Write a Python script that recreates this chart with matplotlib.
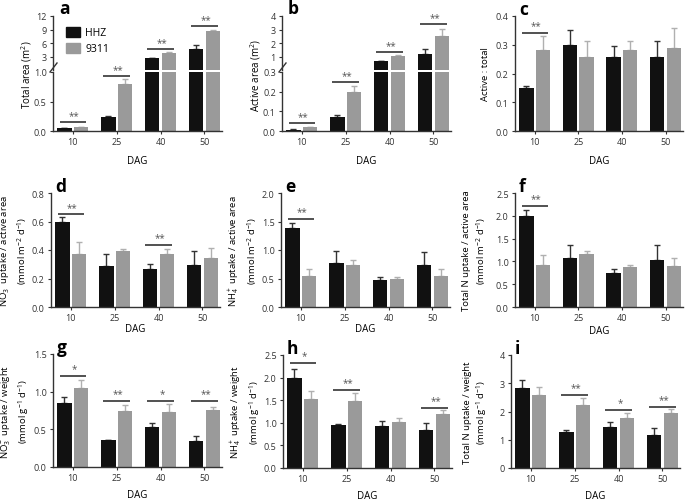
import numpy as np
import matplotlib
matplotlib.use("Agg")
import matplotlib.pyplot as plt
from matplotlib.lines import Line2D
from matplotlib.patches import Patch

plt.rcParams["font.family"] = ["Open Sans", "DejaVu Sans"]
plt.rcParams["mathtext.default"] = "regular"

W, H = 685, 502
BLACK = "#111111"
GRAY = "#9a9a9a"
EBLACK = "#333333"
EGRAY = "#b0b0b0"

dag = ["10", "25", "40", "50"]

# means and upward error
a_hhz = [0.045, 0.235, 2.6, 4.75]
a_hhz_err = [0.005, 0.015, 0.1, 0.75]
a_9311 = [0.065, 0.79, 3.7, 8.6]
a_9311_err = [0.005, 0.09, 0.35, 0.35]

b_hhz = [0.007, 0.07, 0.65, 1.16]
b_hhz_err = [0.002, 0.013, 0.03, 0.4]
b_9311 = [0.02, 0.2, 1.05, 2.55]
b_9311_err = [0.002, 0.028, 0.05, 0.5]

c_hhz = [0.148, 0.30, 0.258, 0.258]
c_hhz_err = [0.01, 0.05, 0.038, 0.056]
c_9311 = [0.283, 0.258, 0.283, 0.29]
c_9311_err = [0.047, 0.054, 0.029, 0.07]

d_hhz = [0.595, 0.29, 0.27, 0.295]
d_hhz_err = [0.035, 0.08, 0.03, 0.1]
d_9311 = [0.375, 0.39, 0.375, 0.345]
d_9311_err = [0.08, 0.02, 0.035, 0.07]

e_hhz = [1.39, 0.78, 0.47, 0.73]
e_hhz_err = [0.09, 0.2, 0.06, 0.24]
e_9311 = [0.55, 0.73, 0.49, 0.55]
e_9311_err = [0.12, 0.1, 0.04, 0.11]

f_hhz = [2.0, 1.07, 0.74, 1.03]
f_hhz_err = [0.12, 0.28, 0.09, 0.33]
f_9311 = [0.92, 1.16, 0.87, 0.9]
f_9311_err = [0.21, 0.07, 0.06, 0.17]

g_hhz = [0.85, 0.355, 0.525, 0.34]
g_hhz_err = [0.08, 0.01, 0.06, 0.065]
g_9311 = [1.05, 0.75, 0.725, 0.755]
g_9311_err = [0.11, 0.07, 0.115, 0.045]

h_hhz = [1.99, 0.95, 0.93, 0.85]
h_hhz_err = [0.19, 0.03, 0.11, 0.15]
h_9311 = [1.53, 1.49, 1.01, 1.2]
h_9311_err = [0.17, 0.16, 0.09, 0.08]

i_hhz = [2.83, 1.29, 1.45, 1.17]
i_hhz_err = [0.29, 0.06, 0.17, 0.23]
i_9311 = [2.57, 2.23, 1.77, 1.95]
i_9311_err = [0.3, 0.24, 0.16, 0.13]

# significance bars: (group index, bar height, label)
a_sig = [(0, 0.15, "**"), (1, 0.94, "**"), (2, 4.6, "**"), (3, 9.7, "**")]
b_sig = [(0, 0.04, "**"), (1, 0.25, "**"), (2, 1.37, "**"), (3, 3.4, "**")]
c_sig = [(0, 0.34, "**")]
d_sig = [(0, 0.65, "**"), (2, 0.435, "**")]
e_sig = [(0, 1.55, "**")]
f_sig = [(0, 2.22, "**")]
g_sig = [(0, 1.21, "*"), (1, 0.88, "**"), (2, 0.88, "*"), (3, 0.88, "**")]
h_sig = [(0, 2.32, "*"), (1, 1.73, "**"), (3, 1.33, "**")]
i_sig = [(1, 2.59, "**"), (2, 2.05, "*"), (3, 2.17, "**")]

fig = plt.figure(figsize=(W / 100, H / 100), dpi=100)

x = np.arange(len(dag))
OFF, BW = 0.19, 0.33


def rect(l, t, r, b):
    return [l / W, 1 - b / H, (r - l) / W, (b - t) / H]


def style(ax, bottom=True):
    for s in ["top", "right"]:
        ax.spines[s].set_visible(False)
    for s in ["left", "bottom"]:
        ax.spines[s].set_linewidth(1.0)
        ax.spines[s].set_color("#333333")
    ax.tick_params(axis="both", direction="out", length=2.5, width=0.8,
                   labelsize=6.5, colors="#333333", pad=2)
    ax.set_xlim(-0.45, 3.4)
    if bottom:
        ax.set_xticks(x)
        ax.set_xticklabels(dag)
    else:
        ax.spines["bottom"].set_visible(False)
        ax.set_xticks([])


def bars(ax, hhz, hhz_err, r9311, r9311_err, mask=None):
    idx = np.arange(len(hhz)) if mask is None else np.array(mask)
    hhz = np.asarray(hhz)[idx]
    r9311 = np.asarray(r9311)[idx]
    he = np.asarray(hhz_err)[idx]
    re = np.asarray(r9311_err)[idx]
    xs = x[idx]
    ax.bar(xs - OFF, hhz, BW, color=BLACK, zorder=2)
    ax.bar(xs + OFF, r9311, BW, color=GRAY, zorder=2)
    ax.errorbar(xs - OFF, hhz, yerr=[np.zeros_like(he), he], fmt="none",
                ecolor=EBLACK, elinewidth=1, capsize=2.5, capthick=1, zorder=1)
    ax.errorbar(xs + OFF, r9311, yerr=[np.zeros_like(re), re], fmt="none",
                ecolor=EGRAY, elinewidth=1, capsize=2.5, capthick=1, zorder=1)


def sig(ax, marks, span):
    for g, y, lab in marks:
        ax.plot([g - 0.3, g + 0.3], [y, y], color="#222222", lw=1.1,
                solid_capstyle="butt", clip_on=False)
        ax.text(g + 0.03, y + span * 0.015, lab, ha="center", va="bottom",
                fontsize=7, color="#555555")


def letter(px, py, s):
    fig.text(px / W, 1 - py / H, s, fontsize=12.5, fontweight="bold",
             ha="left", va="top")


def ylabel(px, py, s, size=7):
    fig.text(px / W, 1 - py / H, s, rotation=90, fontsize=size, ha="center",
             va="center", multialignment="center", linespacing=1.3)


# ---------- broken axes panels a and b ----------
broken = [
    ("a", 53, a_hhz, a_hhz_err, a_9311, a_9311_err, a_sig, 1.0, 12,
     [0, 0.5, 1.0], [3, 6, 9, 12], "Total area (m$^2$)", 27),
    ("b", 282, b_hhz, b_hhz_err, b_9311, b_9311_err, b_sig, 0.3, 4,
     [0, 0.1, 0.2, 0.3], [1, 2, 3, 4], "Active area (m$^2$)", 256),
]
for (lab, left, hh, hhe, rr, rre, sg, ltop, utop, lticks, uticks,
     ylab, ylx) in broken:
    lo = fig.add_axes(rect(left, 73, left + 169, 132))
    up = fig.add_axes(rect(left, 17, left + 169, 71))
    up.patch.set_visible(False)
    style(lo)
    style(up, bottom=False)
    bars(lo, hh, hhe, rr, rre)
    big = [k for k in range(4) if max(hh[k], rr[k]) > ltop]
    bars(up, hh, hhe, rr, rre, mask=big)
    lo.set_ylim(0, ltop)
    up.set_ylim(0, utop)
    lo.set_yticks(lticks)
    lo.set_yticklabels([f"{t:.1f}" for t in lticks])
    up.set_yticks(uticks)
    sig(lo, [s for s in sg if s[1] <= ltop], ltop)
    sig(up, [s for s in sg if s[1] > ltop], utop)
    lo.set_xlabel("DAG", fontsize=7, labelpad=6)
    ylabel(ylx, 75, ylab)
    fig.add_artist(Line2D([(left - 3) / W, (left + 4) / W],
                          [1 - 73 / H, 1 - 64 / H], color="#333333", lw=1))
    letter(left + 6, 0, lab)
    if lab == "a":
        up.legend(handles=[Patch(color=BLACK, label="HHZ"),
                           Patch(color=GRAY, label="9311")],
                  loc="upper left", bbox_to_anchor=(0.05, 0.88), frameon=False,
                  fontsize=7.5, handlelength=1.4, handleheight=1.1,
                  handletextpad=0.5, labelspacing=0.45, borderaxespad=0)

# ---------- regular panels ----------
# (letter, left, top, bottom, ..., ylabel, ylabel x, xlabel pad)
regular = [
    ("c", 515, 17, 132, c_hhz, c_hhz_err, c_9311, c_9311_err, c_sig, 0.4,
     np.arange(0, 0.41, 0.1), "{:.1f}", "Active : total", 485, 6),
    ("d", 51, 194, 308, d_hhz, d_hhz_err, d_9311, d_9311_err, d_sig, 0.8,
     np.arange(0, 0.81, 0.2), "{:.1f}",
     "NO$_3^-$ uptake / active area\n(mmol m$^{-2}$ d$^{-1}$)", 14, 0.5),
    ("e", 281, 194, 308, e_hhz, e_hhz_err, e_9311, e_9311_err, e_sig, 2.0,
     np.arange(0, 2.01, 0.5), "{:.1f}",
     "NH$_4^+$ uptake / active area\n(mmol m$^{-2}$ d$^{-1}$)", 243, 0.5),
    ("f", 515, 194, 308, f_hhz, f_hhz_err, f_9311, f_9311_err, f_sig, 2.5,
     np.arange(0, 2.51, 0.5), "{:.1f}",
     "Total N uptake / active area\n(mmol m$^{-2}$ d$^{-1}$)", 475, 2),
    ("g", 53, 355, 468, g_hhz, g_hhz_err, g_9311, g_9311_err, g_sig, 1.5,
     np.arange(0, 1.51, 0.5), "{:.1f}",
     "NO$_3^-$ uptake / weight\n(mmol g$^{-1}$ d$^{-1}$)", 15, 5),
    ("h", 283, 356, 469, h_hhz, h_hhz_err, h_9311, h_9311_err, h_sig, 2.5,
     np.arange(0, 2.51, 0.5), "{:.1f}",
     "NH$_4^+$ uptake / weight\n(mmol g$^{-1}$ d$^{-1}$)", 245, 5),
    ("i", 511, 356, 469, i_hhz, i_hhz_err, i_9311, i_9311_err, i_sig, 4,
     np.arange(0, 4.1, 1), "{:.0f}",
     "Total N uptake / weight\n(mmol g$^{-1}$ d$^{-1}$)", 476, 5),
]
for (lab, left, top, bot, hh, hhe, rr, rre, sg, ymax, yt, fmt, ylab,
     ylx, xpad) in regular:
    ax = fig.add_axes(rect(left, top, min(left + 169, 683), bot))
    style(ax)
    bars(ax, hh, hhe, rr, rre)
    ax.set_ylim(0, ymax)
    ax.set_yticks(yt)
    ax.set_yticklabels([fmt.format(t) for t in yt])
    sig(ax, sg, ymax)
    ylabel(ylx, (top + bot) / 2, ylab, size=6.8)
    ax.set_xlabel("DAG", fontsize=7, labelpad=xpad)
    letter(left + 4, top - 16, lab)

fig.savefig("out.png", dpi=100)
